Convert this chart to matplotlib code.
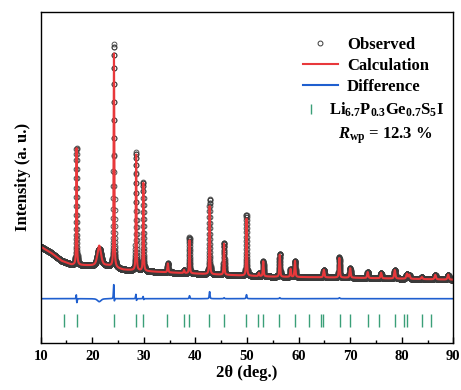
import matplotlib.pyplot as plt
import numpy as np
from matplotlib.ticker import MultipleLocator
from matplotlib.lines import Line2D

plt.rcParams['font.family'] = 'Liberation Serif'
plt.rcParams['font.weight'] = 'bold'
plt.rcParams['mathtext.fontset'] = 'custom'
plt.rcParams['mathtext.rm'] = 'Liberation Serif:bold'
plt.rcParams['mathtext.it'] = 'Liberation Serif:italic:bold'
plt.rcParams['mathtext.bf'] = 'Liberation Serif:bold'

# background (2theta, intensity a.u.)
bg_x = [10, 11, 12, 13, 14, 15, 16, 20, 23, 26, 32, 36, 45, 55, 70, 80, 90]
bg_y = [96, 93, 90, 86, 82, 80, 78, 77, 77, 73, 71, 70, 68, 66, 65, 64, 63]

# reflections seen in the pattern
peak_pos = [16.95, 21.35, 24.2, 28.5, 29.9, 34.65, 37.8, 38.85, 42.75, 45.55,
            49.9, 52.3, 53.15, 56.35, 58.45, 59.3, 64.9, 67.9, 70.0, 73.4,
            76.0, 78.65, 81.0, 81.45, 83.9, 86.5, 89.0]
obs_h = [117, 17, 223, 118, 89, 9, 3, 36, 75, 32,
         61, 3, 15, 23, 8, 16, 7.5, 20.5, 9.5, 6,
         5.5, 8.5, 5, 4, 2, 4.5, 5]
calc_h = [117, 20, 214, 116, 88, 9, 3, 33, 68, 31,
          57, 3, 15, 22, 8, 16, 7.5, 19.5, 9.5, 6,
          5.5, 8.5, 5, 4, 2, 4.5, 5]
calc_pos = [16.954, 21.35, 24.204, 28.503, 29.902, 34.65, 37.8, 38.85, 42.75, 45.55,
            49.9, 52.3, 53.15, 56.35, 58.45, 59.3, 64.9, 67.9, 70.0, 73.4,
            76.0, 78.65, 81.0, 81.45, 83.9, 86.5, 89.0]
fwhm = [0.16, 0.8, 0.16, 0.16, 0.16, 0.2, 0.2, 0.17, 0.17, 0.18,
        0.18, 0.2, 0.2, 0.2, 0.2, 0.22, 0.25, 0.22, 0.25, 0.25,
        0.25, 0.28, 0.3, 0.3, 0.3, 0.3, 0.3]

# Bragg positions of Li6.7P0.3Ge0.7S5I
bragg = [14.58, 16.98, 24.22, 28.49, 29.9, 34.57, 37.8, 38.8, 42.7, 45.6,
         49.8, 52.2, 53.1, 56.3, 59.3, 62.1, 64.3, 64.8, 68.1, 70.0,
         73.4, 75.5, 78.6, 80.5, 81.0, 83.9, 85.6]


def profile(x, pos, h, w):
    y = np.interp(x, bg_x, bg_y)
    for p, a, fw in zip(pos, h, w):
        d = (x - p) / fw
        y = y + a * (0.5 / (1 + 4 * d**2) + 0.5 * np.exp(-4 * np.log(2) * d**2))
    return y


tt = np.arange(10, 90.001, 0.01)
y_obs = profile(tt, peak_pos, obs_h, fwhm)
y_calc = profile(tt, calc_pos, calc_h, fwhm)
y_diff = y_obs - y_calc + 44

fig = plt.figure(figsize=(4.61, 3.90), dpi=100)
ax = fig.add_axes([0.0883, 0.1213, 0.8950, 0.8487])

ax.plot(tt, y_obs, 'o', mfc='none', mec='#3a3a3a', ms=3.5, mew=0.6)
ax.plot(tt, y_calc, color='#e8383b', lw=1.5)
ax.plot(tt, y_diff, color='#1f5fcf', lw=1.2)
ax.vlines(bragg, 16, 29, color='#3a9f78', lw=1.0)

ax.set_xlim(10, 90)
ax.set_ylim(0, 331)
ax.set_xticks(range(10, 91, 10))
ax.xaxis.set_minor_locator(MultipleLocator(5))
ax.set_yticks([])
ax.tick_params(axis='x', which='major', direction='in', length=4, width=1,
               labelsize=10.5, pad=5)
ax.tick_params(axis='x', which='minor', direction='in', length=2.5, width=1)
for s in ax.spines.values():
    s.set_linewidth(1.0)

ax.set_xlabel('2θ (deg.)', fontsize=12, fontweight='bold', labelpad=2)
ax.set_ylabel('Intensity (a. u.)', fontsize=12, fontweight='bold', labelpad=7)

prop = dict(family='Liberation Serif', weight='bold', size=12)
h1 = [Line2D([], [], ls='none', marker='o', mfc='none', mec='#3a3a3a', ms=3.5, mew=0.7),
      Line2D([], [], color='#e8383b', lw=1.5),
      Line2D([], [], color='#1f5fcf', lw=1.5)]
leg1 = ax.legend(h1, ['Observed', 'Calculation', 'Difference'], loc='upper left',
                 bbox_to_anchor=(0.6357, 0.925), frameon=False, prop=prop,
                 handlelength=2.1, handletextpad=0.54, labelspacing=0.3,
                 borderpad=0, borderaxespad=0, numpoints=1)
ax.add_artist(leg1)
h2 = [Line2D([], [], ls='none', marker='|', color='#3a9f78', ms=7, mew=1.0)]
ax.legend(h2, ['Li$_{\\mathrm{6.7}}$P$_{\\mathrm{0.3}}$Ge$_{\\mathrm{0.7}}$S$_{\\mathrm{5}}$I'],
          loc='upper left', bbox_to_anchor=(0.6357, 0.73), frameon=False, prop=prop,
          handlelength=1.0, handletextpad=0.56, borderpad=0, borderaxespad=0,
          numpoints=1)
ax.text(0.7206, 0.617, '$\\mathit{R}_{\\mathrm{wp}}$ = 12.3 %', transform=ax.transAxes,
        fontsize=12, fontweight='bold', va='baseline', ha='left')

fig.savefig('out.png', dpi=100)
